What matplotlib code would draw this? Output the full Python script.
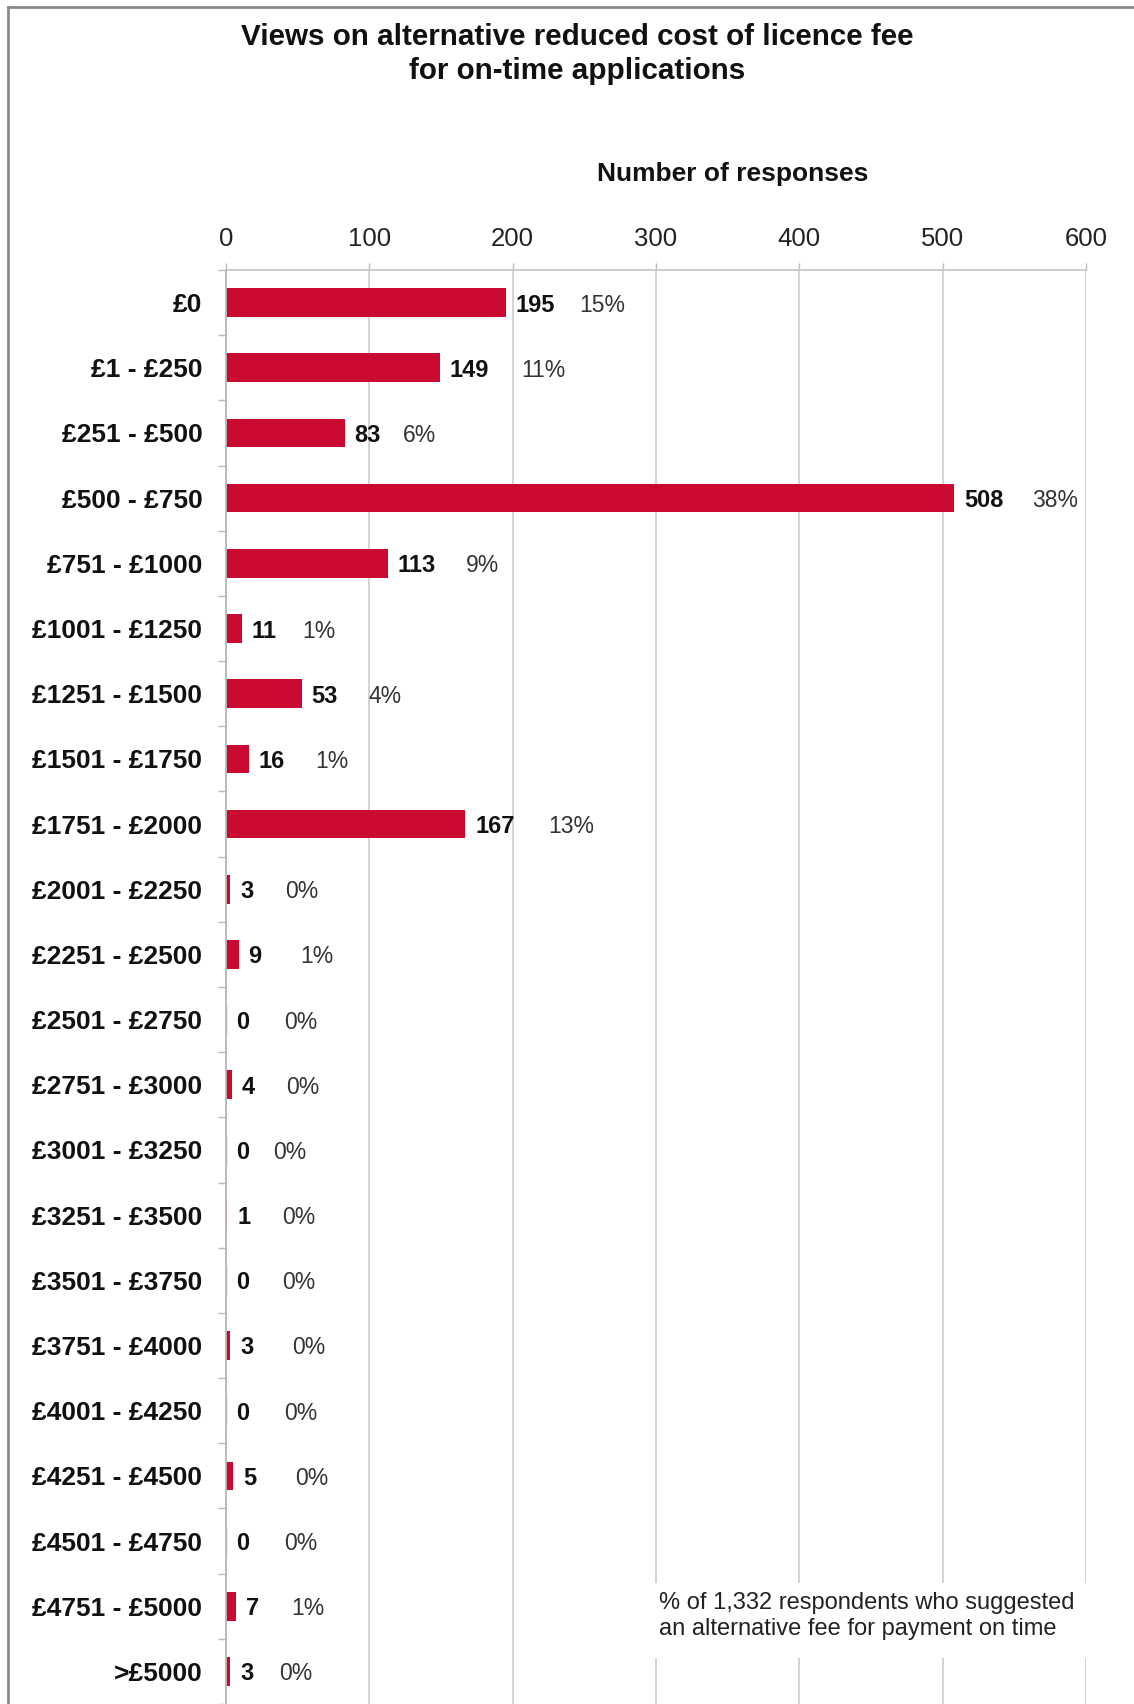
import matplotlib
matplotlib.use("Agg")
import matplotlib.pyplot as plt
from matplotlib.patches import Rectangle
from matplotlib.lines import Line2D
import numpy as np

plt.rcParams['font.family'] = ['Liberation Sans', 'DejaVu Sans']

categories = ["£0", "£1 - £250", "£251 - £500", "£500 - £750", "£751 - £1000",
              "£1001 - £1250", "£1251 - £1500", "£1501 - £1750", "£1751 - £2000",
              "£2001 - £2250", "£2251 - £2500", "£2501 - £2750", "£2751 - £3000",
              "£3001 - £3250", "£3251 - £3500", "£3501 - £3750", "£3751 - £4000",
              "£4001 - £4250", "£4251 - £4500", "£4501 - £4750", "£4751 - £5000",
              ">£5000"]
counts = [195, 149, 83, 508, 113, 11, 53, 16, 167, 3, 9, 0, 4, 0, 1, 0, 3, 0, 5, 0, 7, 3]
pct_labels = ["15%", "11%", "6%", "38%", "9%", "1%", "4%", "1%", "13%", "0%", "1%",
              "0%", "0%", "0%", "0%", "0%", "0%", "0%", "0%", "0%", "1%", "0%"]
x_ticks = [0, 100, 200, 300, 400, 500, 600]

# layout: gap (pixels) between count label and percentage label, per row
pct_gap_px = [25, 33, 22, 29, 30, 26, 30, 30, 34, 32, 39, 35, 32, 24, 32, 33, 39, 35, 39, 35, 32, 26]

W, H = 1134, 1704
fig = plt.figure(figsize=(W / 100, H / 100), dpi=100)
fig.patch.set_facecolor('white')

ax_l, ax_r, ax_t = 226, 1086, 270
ax = fig.add_axes([ax_l / W, 0.0, (ax_r - ax_l) / W, 1 - ax_t / H])

y = np.arange(len(categories))
red = '#CB0A31'
bars = ax.barh(y, counts, height=0.44, color=red, zorder=3)
zero = np.array(counts) == 0
ax.barh(y[zero], np.array(counts)[zero], height=0.44, color='none',
        edgecolor='#8FA8D0', linewidth=1.0, zorder=3)

ax.set_xlim(0, 600)
ax.set_ylim(len(categories) - 0.5, -0.5)

ax.xaxis.tick_top()
ax.set_xticks(x_ticks)
ax.set_xticklabels([str(t) for t in x_ticks], fontsize=18.5, color='#222222')
ax.tick_params(axis='x', length=5, width=1, color='#BBBBBB', pad=9)

ax.set_yticks(y)
ax.set_yticklabels(categories, fontsize=19, fontweight='bold', color='#111111')
ax.set_yticks(np.arange(-0.5, len(categories)), minor=True)
ax.tick_params(axis='y', which='major', length=0, pad=17)
ax.tick_params(axis='y', which='minor', length=6, width=1, color='#BBBBBB')

ax.grid(axis='x', color='#D0D0D0', linewidth=1.3, zorder=0)
ax.set_axisbelow(True)
for s in ['right', 'bottom']:
    ax.spines[s].set_visible(False)
ax.spines['top'].set_color('#C8C8C8')
ax.spines['top'].set_linewidth(1.3)
ax.spines['left'].set_color('#B8B8B8')
ax.spines['left'].set_linewidth(1.3)
ax.spines['left'].set_zorder(4)

ax.xaxis.set_label_position('top')
ax.set_xlabel("Number of responses", fontsize=19, fontweight='bold', color='#111111')
ax.xaxis.set_label_coords((733 - ax_l) / (ax_r - ax_l), 1 + (ax_t - 174) / (H - ax_t))
ax.xaxis.label.set_va('center')

count_texts, pct_texts = [], []
for i, c in enumerate(counts):
    count_texts.append(ax.annotate(str(c), xy=(c, i), xytext=(7, 0), textcoords='offset points',
                                   va='center_baseline', ha='left', fontsize=17,
                                   fontweight='bold', color='#111111', zorder=5))
    pct_texts.append(ax.annotate(pct_labels[i], xy=(c, i), xytext=(0, 0),
                                 textcoords='offset points', va='center_baseline',
                                 ha='left', fontsize=16.5, color='#333333', zorder=5))

fig.canvas.draw()
renderer = fig.canvas.get_renderer()
inv = ax.transData.inverted()
for i, (ct, pt) in enumerate(zip(count_texts, pct_texts)):
    bb = ct.get_window_extent(renderer)
    pt.xy = (inv.transform((bb.x1 + pct_gap_px[i], 0))[0], i)

# white box behind note
ah = H - ax_t
rect = Rectangle(((640 - ax_l) / (ax_r - ax_l), (H - 1658) / ah),
                 (1100 - 640) / (ax_r - ax_l), (1658 - 1583) / ah,
                 transform=ax.transAxes, facecolor='white', edgecolor='none',
                 zorder=2, clip_on=False)
ax.add_patch(rect)
ax.text((659 - ax_l) / (ax_r - ax_l), (H - 1616) / ah,
        "% of 1,332 respondents who suggested\nan alternative fee for payment on time",
        transform=ax.transAxes, ha='left', va='center', fontsize=17,
        color='#222222', linespacing=1.22, zorder=5)

fig.text(577 / W, 1 - 54 / H,
         "Views on alternative reduced cost of licence fee\nfor on-time applications",
         ha='center', va='center', fontsize=21.3, fontweight='bold', color='#111111',
         linespacing=1.3)

# outer frame (top and left)
fig.add_artist(Line2D([8 / W, 1], [1 - 7 / H, 1 - 7 / H], transform=fig.transFigure,
                      color='#8A8A8A', linewidth=2))
fig.add_artist(Line2D([8 / W, 8 / W], [0, 1 - 7 / H], transform=fig.transFigure,
                      color='#8A8A8A', linewidth=2))

fig.savefig("out.png", dpi=100, facecolor='white')
